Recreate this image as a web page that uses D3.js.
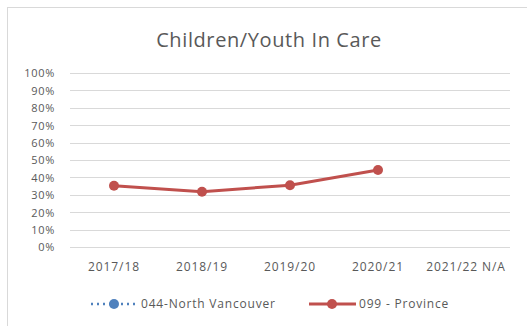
<!DOCTYPE html>
<html><head><meta charset="utf-8">
<script src="https://cdn.jsdelivr.net/npm/d3@7"></script>
<style>body{margin:0;background:#fff}svg{display:block}text{font-family:"Open Sans","Liberation Sans",sans-serif}</style>
</head><body>
<script>
const categories = ["2017/18","2018/19","2019/20","2020/21","2021/22 N/A"];
const northVancouver = [null,null,null,null,null];
const province = [0.352,0.318,0.355,0.443,null];
const yTicks = [0,0.1,0.2,0.3,0.4,0.5,0.6,0.7,0.8,0.9,1.0];

const W=527,H=326;
const svg=d3.select("body").append("svg").attr("width",W).attr("height",H);
svg.append("rect").attr("x",7.5).attr("y",7.5).attr("width",W).attr("height",H).attr("fill","#fff").attr("stroke","#d9d9d9");

const x=d3.scaleBand().domain(categories).range([70,510]);
const y=d3.scaleLinear().domain([0,1]).range([247,73]);

svg.append("text").attr("x",269).attr("y",47).attr("text-anchor","middle").attr("font-size",20).attr("letter-spacing",0.6).attr("fill","#595959").text("Children/Youth In Care");

const g=svg.append("g");
g.selectAll("line.grid").data(yTicks).join("line").attr("x1",70).attr("x2",510)
 .attr("y1",d=>Math.round(y(d))+0.5).attr("y2",d=>Math.round(y(d))+0.5).attr("stroke","#d9d9d9").attr("stroke-width",1);

const yAxis=d3.axisLeft(y).tickValues(yTicks).tickFormat(d3.format(".0%")).tickSize(0).tickPadding(0);
const ya=svg.append("g").attr("transform","translate(55,0)").call(yAxis);
ya.select(".domain").remove();
ya.selectAll("text").attr("font-size",11).attr("letter-spacing",0.7).attr("fill","#595959").attr("dy","0.35em");

const xAxis=d3.axisBottom(x).tickSize(0).tickPadding(0);
const xa=svg.append("g").attr("transform","translate(0,262)").call(xAxis);
xa.select(".domain").remove();
xa.selectAll("text").attr("font-size",12).attr("letter-spacing",0.9).attr("fill","#595959").attr("dy","0.71em");

const cx=d=>x(d)+x.bandwidth()/2;
const red="#c0504d", blue="#4f81bd";
const line=d3.line().defined(d=>d.v!=null).x(d=>cx(d.c)).y(d=>y(d.v));
const pdata=categories.map((c,i)=>({c,v:province[i]}));
const ndata=categories.map((c,i)=>({c,v:northVancouver[i]}));
svg.append("path").datum(ndata).attr("d",line).attr("fill","none").attr("stroke",blue).attr("stroke-width",2.5).attr("stroke-dasharray","2,4");
svg.append("path").datum(pdata).attr("d",line).attr("fill","none").attr("stroke",red).attr("stroke-width",3);
svg.selectAll("circle.p").data(pdata.filter(d=>d.v!=null)).join("circle").attr("cx",d=>cx(d.c)).attr("cy",d=>y(d.v)).attr("r",5).attr("fill",red);
svg.selectAll("circle.n").data(ndata.filter(d=>d.v!=null)).join("circle").attr("cx",d=>cx(d.c)).attr("cy",d=>y(d.v)).attr("r",5).attr("fill",blue);

// legend
const ly=304;
const leg=svg.append("g");
leg.append("line").attr("x1",91).attr("x2",135).attr("y1",ly).attr("y2",ly).attr("stroke",blue).attr("stroke-width",2.5).attr("stroke-dasharray","2,4");
leg.append("circle").attr("cx",114).attr("cy",ly).attr("r",5).attr("fill",blue);
leg.append("text").attr("x",141).attr("y",ly).attr("dy","0.35em").attr("font-size",12).attr("letter-spacing",0.8).attr("fill","#595959").text("044-North Vancouver");
leg.append("line").attr("x1",309).attr("x2",356).attr("y1",ly).attr("y2",ly).attr("stroke",red).attr("stroke-width",3);
leg.append("circle").attr("cx",332).attr("cy",ly).attr("r",5).attr("fill",red);
leg.append("text").attr("x",359).attr("y",ly).attr("dy","0.35em").attr("font-size",12).attr("letter-spacing",0.8).attr("fill","#595959").text("099 - Province");
</script>
</body></html>
